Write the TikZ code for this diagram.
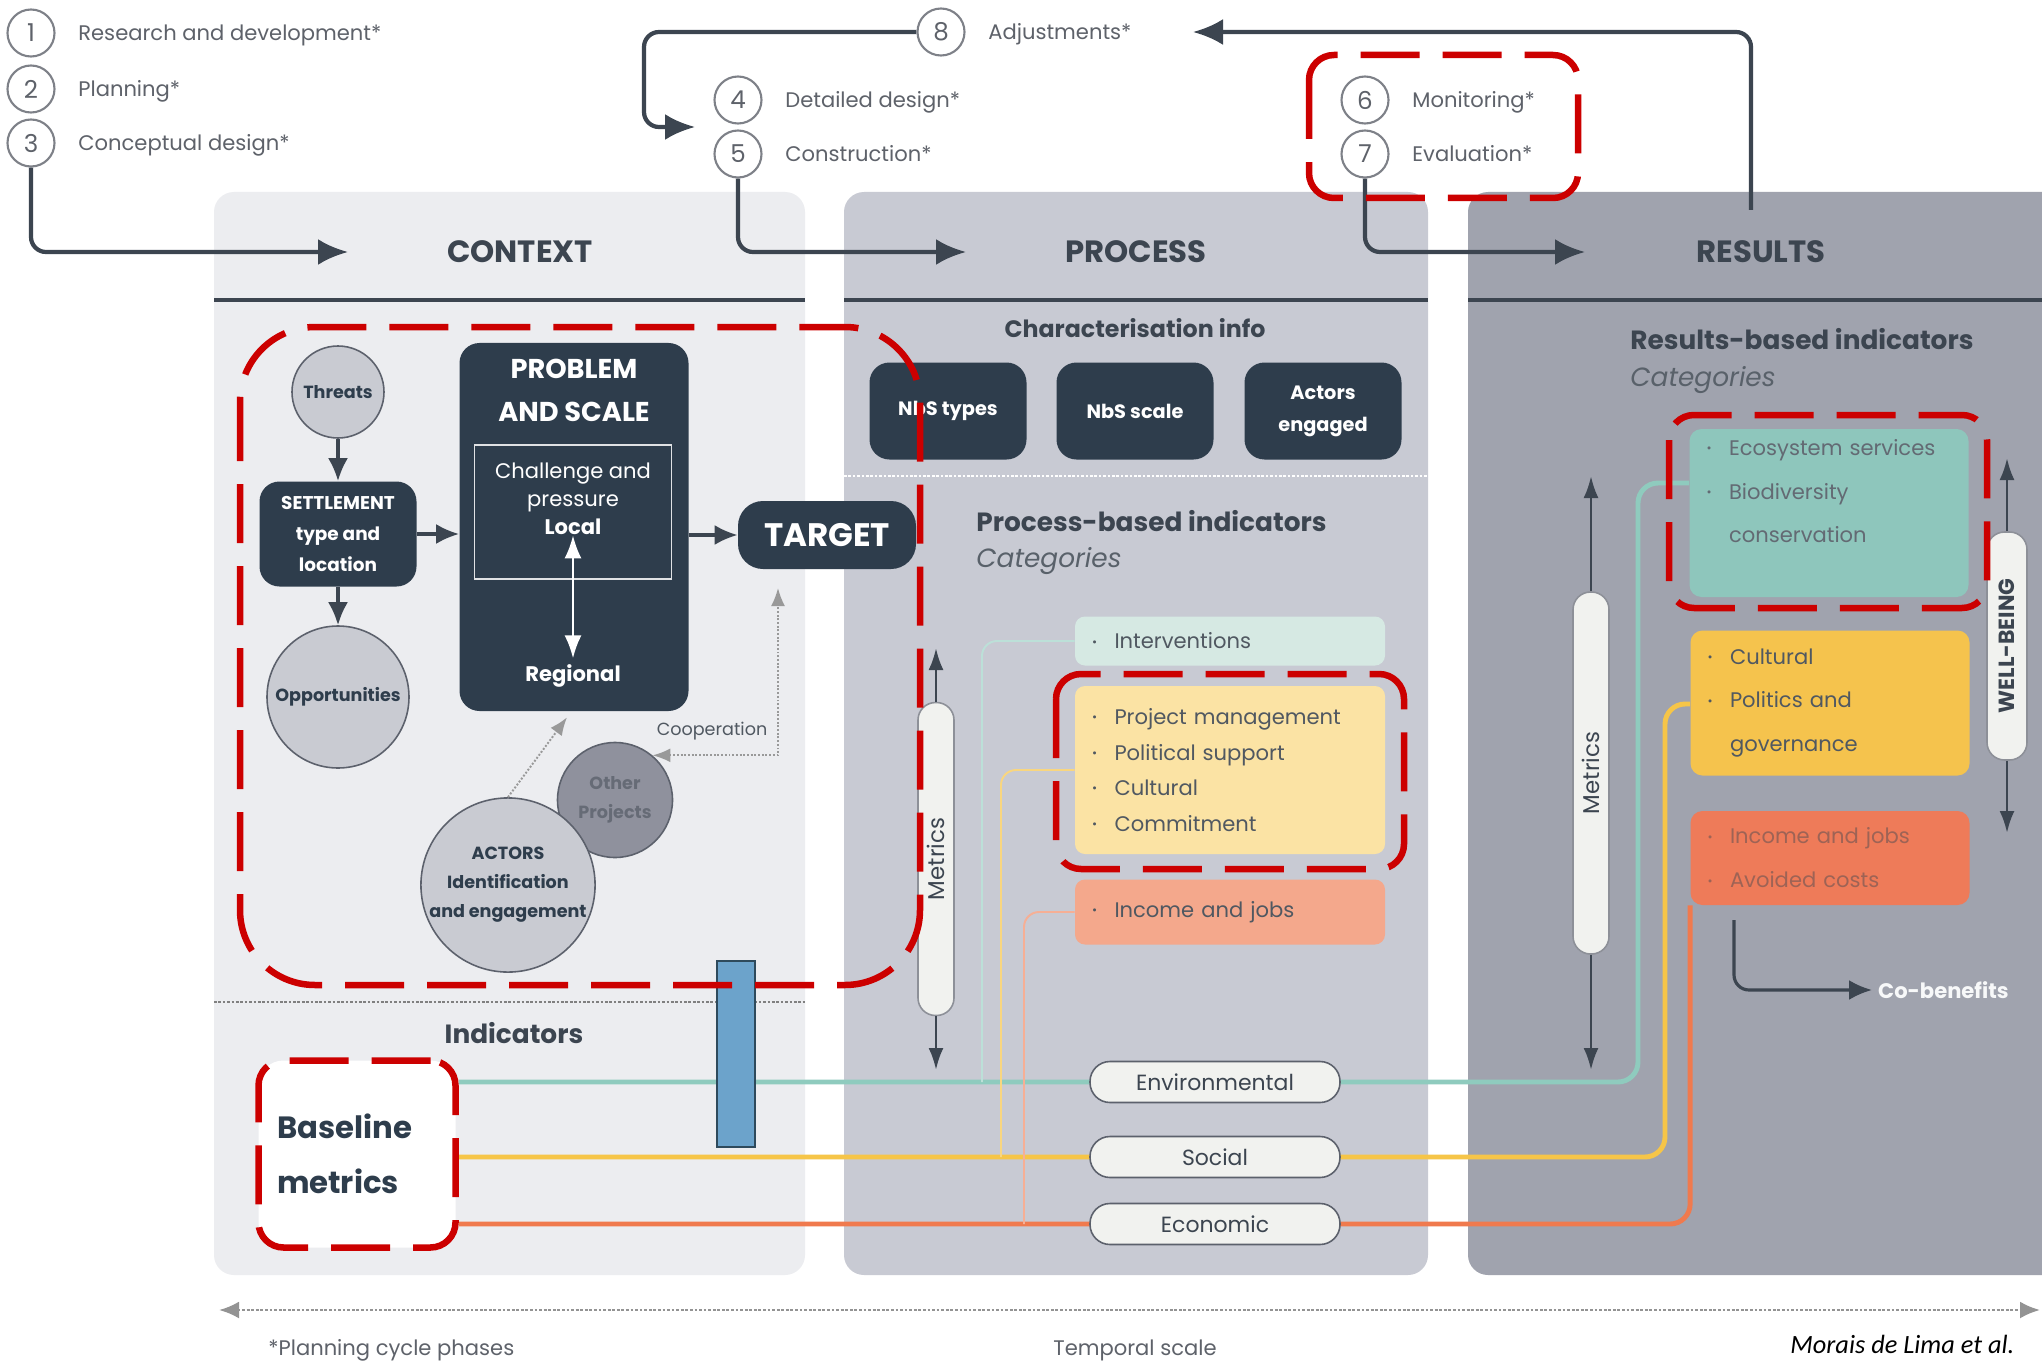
\documentclass[tikz,border=0pt]{standalone}
\usepackage{fontspec}
\setmainfont{Poppins}
\newfontfamily\citefont{Carlito}
\usepackage{tikz}
\usetikzlibrary{arrows.meta}
\pgfdeclarelayer{back}
\pgfdeclarelayer{wires}
\pgfsetlayers{back,wires,main}

\definecolor{slate}{HTML}{2E3D4C}
\definecolor{ink}{HTML}{3C4550}
\definecolor{phasegray}{HTML}{5E626A}
\definecolor{ctxfill}{HTML}{ECEDF0}
\definecolor{procfill}{HTML}{C8CAD3}
\definecolor{resfill}{HTML}{A0A3AE}
\definecolor{circfill}{HTML}{C9CBD2}
\definecolor{circline}{HTML}{5C616C}
\definecolor{otherfill}{HTML}{8F919D}
\definecolor{hlred}{HTML}{CC0000}
\definecolor{envcol}{HTML}{8FCBBE}
\definecolor{soccol}{HTML}{F6C548}
\definecolor{ecocol}{HTML}{F07A4E}
\definecolor{intervfill}{HTML}{D6E9E3}
\definecolor{pyellow}{HTML}{FBE3A4}
\definecolor{porange}{HTML}{F4A88C}
\definecolor{rteal}{HTML}{8EC6BC}
\definecolor{ryellow}{HTML}{F5C34D}
\definecolor{rorange}{HTML}{EE7B59}
\definecolor{pillfill}{HTML}{F1F2EF}
\definecolor{barblue}{HTML}{6CA3CB}
\definecolor{barline}{HTML}{2E4A5C}

\newcommand{\bitem}{\makebox[4.5mm][l]{\raisebox{0.25ex}{\scriptsize\textbullet}}}
\newcommand{\bskip}{\hspace*{4.5mm}}

\tikzstyle{phase}=[circle, draw=phasegray!80, line width=1.2pt, fill=white, minimum size=9.4mm, inner sep=0pt, text=phasegray, font=\fontsize{14}{14}\selectfont]
\tikzstyle{phaselabel}=[anchor=west, inner sep=0pt, text height=8.3pt, text depth=0pt, text=phasegray, font=\fontsize{12}{14}\selectfont]
\tikzstyle{phasearrow}=[-{Latex[length=6mm,width=5.2mm]}, line width=2.4pt, draw=ink, rounded corners=3mm]
\tikzstyle{header}=[text=ink, font=\bfseries\fontsize{17.5}{20}\selectfont]
\tikzstyle{headline}=[line width=2.4pt, draw=ink]
\tikzstyle{sepline}=[densely dotted, line width=1.5pt, draw=gray]
\tikzstyle{darkbox}=[rectangle, rounded corners=4mm, fill=slate, text=white, align=center, inner sep=0pt]
\tikzstyle{lightcirc}=[circle, draw=circline, line width=0.9pt, fill=circfill, text=slate, align=center, inner sep=0pt, font=\bfseries\fontsize{10}{16.5}\selectfont]
\tikzstyle{othercirc}=[circle, draw=circline, line width=0.9pt, fill=otherfill, text=circline!80!otherfill, align=center, inner sep=0pt, font=\bfseries\fontsize{10}{16.5}\selectfont]
\tikzstyle{darkarrow}=[-{Latex[length=4.6mm,width=4mm]}, line width=1.8pt, draw=ink]
\tikzstyle{whitearrow}=[{Latex[length=4.6mm,width=3.4mm]}-{Latex[length=4.6mm,width=3.4mm]}, line width=1.4pt, draw=white]
\tikzstyle{dotarrow}=[>={Latex[length=3.6mm,width=2.8mm]}, densely dotted, line width=1.1pt, draw=gray!80]
\tikzstyle{metarrow}=[-{Latex[length=4.4mm,width=3mm]}, line width=1.6pt, draw=ink]
\tikzstyle{sechead}=[text=ink, inner sep=0pt, font=\bfseries\fontsize{15}{18}\selectfont]
\tikzstyle{cathead}=[text=ink!85, inner sep=0pt, font=\itshape\fontsize{15}{18}\selectfont]
\tikzstyle{charbox}=[darkbox, minimum width=31.4mm, minimum height=19.4mm, font=\bfseries\fontsize{11}{18.2}\selectfont]
\tikzstyle{procbox}=[rectangle, rounded corners=2mm, minimum width=62mm, text width=55.2mm, inner xsep=3.4mm, inner ysep=0pt, align=left, text=ink!90, font=\fontsize{12}{20.3}\selectfont]
\tikzstyle{resbox}=[rectangle, rounded corners=2.4mm, minimum width=55.8mm, text width=49mm, inner xsep=3.4mm, inner ysep=0pt, align=left, text=ink!80, font=\fontsize{12}{25}\selectfont]
\tikzstyle{pill}=[rectangle, rounded corners=4mm, draw=circline, line width=0.9pt, fill=pillfill, minimum width=50mm, minimum height=8.2mm, inner sep=0pt, text=ink, font=\fontsize{12.5}{14}\selectfont]
\tikzstyle{metricpill}=[rectangle, rotate=90, rounded corners=3.5mm, draw=circline!70, line width=0.9pt, fill=pillfill, minimum height=7.2mm, inner sep=0pt, text=ink, font=\fontsize{13}{14}\selectfont]
\tikzstyle{basebox}=[rectangle, fill=white, draw=hlred, line width=1.3mm, dash pattern=on 11.8mm off 4.6mm, rounded corners=5mm, minimum width=39.4mm, minimum height=37.4mm, text width=32mm, align=left, inner sep=0pt, text=slate, font=\bfseries\fontsize{17.5}{31.3}\selectfont]
\tikzstyle{bluebar}=[rectangle, fill=barblue, draw=barline, line width=1.4pt, minimum width=7.6mm, minimum height=37.2mm, inner sep=0pt]
\tikzstyle{hlbox}=[draw=hlred, line width=1.3mm, dash pattern=on 11.8mm off 4.6mm]
\tikzstyle{envwire}=[draw=envcol, line width=2.8pt, rounded corners=4mm]
\tikzstyle{socwire}=[draw=soccol, line width=2.8pt, rounded corners=4mm]
\tikzstyle{ecowire}=[draw=ecocol, line width=2.8pt, rounded corners=4mm]
\tikzstyle{thinwire}=[line width=1.1pt, rounded corners=3mm]
\tikzstyle{tempo}=[{Latex[length=4mm,width=3.4mm]}-{Latex[length=4mm,width=3.4mm]}, densely dotted, line width=1.6pt, draw=gray!85]
\tikzstyle{note}=[text=phasegray, inner sep=0pt, font=\fontsize{12}{14}\selectfont]

\begin{document}
\begin{tikzpicture}[x=0.2mm, y=-0.2mm]
    \useasboundingbox (0,0) rectangle (2042,1363);

    \begin{pgfonlayer}{back}
        \fill[white] (0,0) rectangle (2042,1363);
        \fill[ctxfill, rounded corners=4mm] (214,192) rectangle (805,1275);
        \fill[procfill, rounded corners=4mm] (844,192) rectangle (1428,1275);
        \fill[resfill, rounded corners=4mm] (1468,192) rectangle (2090,1275);
        \draw[headline] (214,300) -- (805,300);
        \draw[headline] (844,300) -- (1428,300);
        \draw[headline] (1468,300) -- (2042,300);
        \draw[sepline] (214,1002) -- (805,1002);
        \draw[sepline, white] (844,476) -- (1428,476);
    \end{pgfonlayer}

    \node[phase] (p1) at (31,33) {1};
    \node[phaselabel] (l1) at (78,33) {Research and development*};
    \node[phase] (p2) at (31,89) {2};
    \node[phaselabel] (l2) at (78,89) {Planning*};
    \node[phase] (p3) at (31,143) {3};
    \node[phaselabel] (l3) at (78,143) {Conceptual design*};
    \node[phase] (p8) at (941,32) {8};
    \node[phaselabel] (l8) at (988,32) {Adjustments*};
    \node[phase] (p4) at (738,100) {4};
    \node[phaselabel] (l4) at (785,100) {Detailed design*};
    \node[phase] (p5) at (738,154) {5};
    \node[phaselabel] (l5) at (785,154) {Construction*};
    \node[phase] (p6) at (1365,100) {6};
    \node[phaselabel] (l6) at (1412,100) {Monitoring*};
    \node[phase] (p7) at (1365,154) {7};
    \node[phaselabel] (l7) at (1412,154) {Evaluation*};

    \node[header] (ctxhead) at (520,252) {CONTEXT};
    \node[header] (prochead) at (1136,252) {PROCESS};
    \node[header] (reshead) at (1761,252) {RESULTS};

    \coordinate (ctxin) at (348,252);
    \coordinate (procin) at (966,252);
    \coordinate (resin) at (1585,252);
    \coordinate (resout) at (1751,210);
    \coordinate (adjback) at (1193,32);
    \coordinate (adjin) at (695,127);
    \draw[phasearrow] (p3.south) |- (ctxin);
    \draw[phasearrow] (p5.south) |- (procin);
    \draw[phasearrow] (p7.south) |- (resin);
    \draw[phasearrow] (resout) |- (adjback);
    \draw[phasearrow] (p8.west) -| ([xshift=-10.2mm]adjin) -- (adjin);

    \node[lightcirc, minimum size=18.4mm] (threats) at (338,392) {Threats};
    \node[darkbox, minimum width=31.4mm, minimum height=21mm, font=\bfseries\fontsize{10.5}{17.4}\selectfont] (settle) at (338,534) {SETTLEMENT\\type and\\location};
    \node[lightcirc, minimum size=28.4mm] (opport) at (338,697) {Opportunities};
    \node[darkbox, minimum width=45.8mm, minimum height=73.6mm] (problem) at (574,527) {};
    \node[text=white, align=center, font=\bfseries\fontsize{15.5}{24.5}\selectfont] (probname) at (574,390) {PROBLEM\\AND SCALE};
    \node[draw=white!85!slate, line width=0.9pt, minimum width=39.4mm, minimum height=26.8mm] (chbox) at (573,512) {};
    \node[text=white, align=center, inner sep=0pt, font=\fontsize{12}{16}\selectfont] (chall) at (573,499) {Challenge and\\pressure\\\textbf{Local}};
    \node[text=white, font=\bfseries\fontsize{12}{14}\selectfont] (regional) at (573,676) {Regional};
    \node[darkbox, rounded corners=5mm, minimum width=35.6mm, minimum height=13.6mm, font=\bfseries\fontsize{18.5}{20}\selectfont] (target) at (827,535) {TARGET};
    \draw[darkarrow] (threats) -- (settle);
    \draw[darkarrow] (settle) -- (opport);
    \draw[darkarrow] (settle.east) -- (settle.east -| problem.west);
    \draw[darkarrow] (target.west -| problem.east) -- (target.west);
    \draw[whitearrow] (chall.south) -- (regional.north);

    \node[othercirc, minimum size=23mm] (other) at (615,800) {Other\\Projects};
    \node[lightcirc, minimum size=34mm] (actors) at (508,885) {ACTORS\\Identification\\and engagement};
    \node[text=ink!90, font=\fontsize{10}{12}\selectfont] (coop) at (712,731) {Cooperation};
    \coordinate (coopup) at (778,588);
    \draw[dotarrow, ->] (actors.north) -- ([xshift=-1.4mm,yshift=-1.2mm]problem.south);
    \draw[dotarrow, <->] (other.50) -| (coopup);

    \node[sechead] (indic) at (514,1033) {Indicators};
    \node[basebox] (baseline) at (357,1154) {Baseline\\metrics};
    \node[bluebar] (bar) at (736,1054) {};

    \node[sechead, font=\bfseries\fontsize{13.5}{16}\selectfont] (charinfo) at (1135,328) {Characterisation info};
    \node[charbox] (nbstypes) at (948,411) {NbS types};
    \node[charbox] (nbsscale) at (1135,411) {NbS scale};
    \node[charbox] (actorseng) at (1323,411) {Actors\\engaged};
    \node[sechead, anchor=west] (procind) at (976,521) {Process-based indicators};
    \node[cathead, anchor=west] (proccat) at (976,561) {Categories};
    \node[procbox, fill=intervfill, minimum height=9.8mm] (interv) at (1230,641) {\bitem Interventions};
    \node[procbox, fill=pyellow, minimum height=33.6mm] (psocial) at (1230,770) {\bitem Project management\\\bitem Political support\\\bitem Cultural\\\bitem Commitment};
    \node[procbox, fill=porange, minimum height=13mm] (pecon) at (1230,912) {\bitem Income and jobs};
    \node[metricpill, minimum width=62.6mm] (pmetrics) at (936,859) {Metrics};
    \coordinate (pmtop) at (936,648);
    \coordinate (pmbot) at (936,1070);
    \draw[metarrow] (pmetrics.east) -- (pmtop);
    \draw[metarrow] (pmetrics.west) -- (pmbot);
    \node[pill] (envpill) at (1215,1082) {Environmental};
    \node[pill] (socpill) at (1215,1157) {Social};
    \node[pill] (ecopill) at (1215,1224) {Economic};

    \node[sechead, anchor=west] (resind) at (1630,339) {Results-based indicators};
    \node[cathead, anchor=west] (rescat) at (1630,380) {Categories};
    \node[resbox, fill=rteal, minimum height=33.6mm] (resenv) at (1829,513) {\bitem Ecosystem services\\\bitem Biodiversity\\\bskip conservation\\\mbox{}};
    \node[resbox, fill=ryellow, minimum height=29mm, text=ink!90] (ressoc) at (1830,703) {\bitem Cultural\\\bitem Politics and\\\bskip governance};
    \node[resbox, fill=rorange, minimum height=18.8mm, text=ink!45!rorange] (reseco) at (1830,858) {\bitem Income and jobs\\\bitem Avoided costs};
    \node[metricpill, minimum width=72.4mm] (rmetrics) at (1591,773) {Metrics};
    \coordinate (rmtop) at (1591,476);
    \coordinate (rmbot) at (1591,1070);
    \draw[metarrow] (rmetrics.east) -- (rmtop);
    \draw[metarrow] (rmetrics.west) -- (rmbot);
    \node[metricpill, minimum width=45.6mm, minimum height=8mm, font=\bfseries\fontsize{12.5}{14}\selectfont] (wellbeing) at (2007,646) {WELL-BEING};
    \coordinate (wbtop) at (2007,458);
    \coordinate (wbbot) at (2007,833);
    \draw[metarrow] (wellbeing.east) -- (wbtop);
    \draw[metarrow] (wellbeing.west) -- (wbbot);
    \node[anchor=west, text=white!92!resfill, font=\bfseries\fontsize{12}{14}\selectfont] (cob) at (1872,990) {Co-benefits};
    \coordinate (cobstart) at (1734,920);
    \draw[darkarrow, rounded corners=3mm] (cobstart) |- (cob.west);

    \begin{pgfonlayer}{wires}
        \coordinate (envturn) at (1638,483);
        \coordinate (socturn) at (1665,704);
        \coordinate (envjoin) at (982,1082);
        \coordinate (socjoin) at (1001,1157);
        \coordinate (ecojoin) at (1024,1224);
        \draw[envwire] (baseline.east |- envpill) -| (envturn) -- (resenv.west |- envturn);
        \draw[socwire] (baseline.east |- socpill) -| (socturn) -- (ressoc.west |- socturn);
        \draw[ecowire] (baseline.east |- ecopill) -| (reseco.south west);
        \draw[thinwire, draw=white!40!envcol] (interv.west) -| (envjoin);
        \draw[thinwire, draw=soccol!70] (psocial.west) -| (socjoin);
        \draw[thinwire, draw=ecocol!60] (pecon.west) -| (ecojoin);
    \end{pgfonlayer}

    \coordinate (tleft) at (219,1310);
    \coordinate (tright) at (2040,1310);
    \draw[tempo] (tleft) -- (tright);
    \node[note, anchor=west] (planning) at (268,1350) {*Planning cycle phases};
    \node[note] (temporal) at (1135,1350) {Temporal scale};
    \node[anchor=west, inner sep=0pt, text=black, font=\citefont\itshape\fontsize{15}{17}\selectfont] (source) at (1790,1344) {Morais de Lima et al.};

    \draw[hlbox, rounded corners=15mm] (240,327) rectangle (920,985);
    \draw[hlbox, rounded corners=5mm] (1309,55) rectangle (1578,198);
    \draw[hlbox, rounded corners=5mm] (1056,674) rectangle (1404,869);
    \draw[hlbox, rounded corners=5mm] (1669,415) rectangle (1987,608);
\end{tikzpicture}
\end{document}
